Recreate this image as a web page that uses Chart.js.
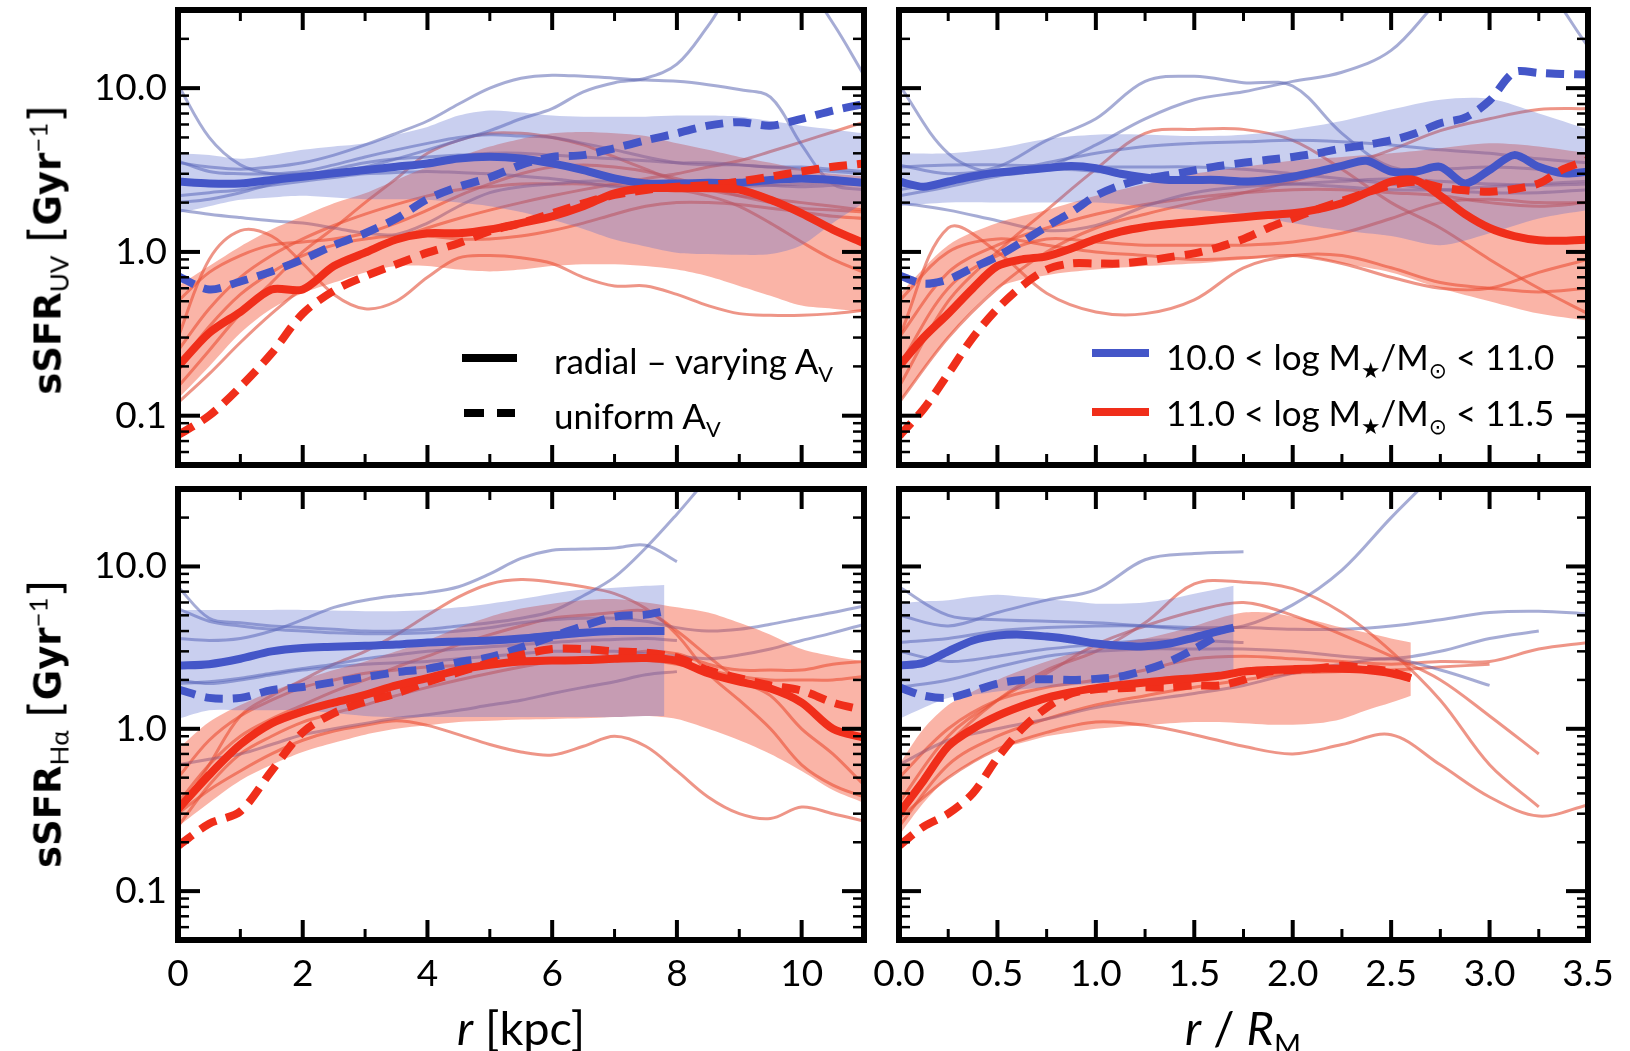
<!DOCTYPE html>
<html>
<head>
<meta charset="utf-8">
<script src="https://cdn.jsdelivr.net/npm/chart.js@4.4.0/dist/chart.umd.min.js"></script>
<style>
  body { margin: 0; width: 1630px; height: 1051px; background: #fff; position: relative; overflow: hidden; font-family: Lato, 'DejaVu Sans', sans-serif; color: #000; }
  canvas { position: absolute; }
  sub, sup { font-size: 0.62em; line-height: 0; }
  .titulo-y { position: absolute; transform: translate(-50%, -50%) rotate(-90deg); white-space: nowrap; font-family: 'DejaVu Sans', sans-serif; font-weight: bold; font-size: 37px; }
  .titulo-y sub, .titulo-y sup { font-family: Lato, sans-serif; font-weight: normal; font-size: 0.7em; }
  .titulo-y .colchete { font-weight: normal; font-size: 1.2em; }
  .titulo-x { position: absolute; transform: translate(-50%, -50%); white-space: nowrap; font-size: 47px; }
  .legenda { position: absolute; transform: translateY(-50%); white-space: nowrap; font-size: 35px; }
  .amostra { position: absolute; height: 8px; }
</style>
</head>
<body>
<canvas id="uvKpcChart"></canvas>
<canvas id="uvRmChart"></canvas>
<canvas id="haKpcChart"></canvas>
<canvas id="haRmChart"></canvas>

<div class="titulo-y" style="left:45px; top:250px">sSFR<sub>UV</sub> <span class="colchete">[</span>Gyr<sup>−1</sup><span class="colchete">]</span></div>
<div class="titulo-y" style="left:45px; top:724px">sSFR<sub>Hα</sub> <span class="colchete">[</span>Gyr<sup>−1</sup><span class="colchete">]</span></div>
<div class="titulo-x" style="left:521px; top:1027px"><i>r</i> [kpc]</div>
<div class="titulo-x" style="left:1243px; top:1027px"><i>r</i> / <i>R</i><sub>M</sub></div>

<!-- legenda do painel superior esquerdo -->
<div class="amostra" style="left:462px; top:354px; width:55px; background:#000"></div>
<div class="amostra" style="left:464px; top:409px; width:20px; background:#000"></div>
<div class="amostra" style="left:497px; top:409px; width:18px; background:#000"></div>
<div class="legenda" style="left:554px; top:360px">radial – varying A<sub>V</sub></div>
<div class="legenda" style="left:554px; top:415px">uniform A<sub>V</sub></div>

<!-- legenda do painel superior direito -->
<div class="amostra" style="left:1092px; top:349px; width:57px; background:rgb(68,86,200)"></div>
<div class="amostra" style="left:1092px; top:408px; width:57px; background:rgb(240,46,26)"></div>
<div class="legenda" style="left:1166px; top:356px">10.0 &lt; log M<sub>★</sub>/M<sub>⊙</sub> &lt; 11.0</div>
<div class="legenda" style="left:1166px; top:412px">11.0 &lt; log M<sub>★</sub>/M<sub>⊙</sub> &lt; 11.5</div>

<script>
// Grades de raio
const xKpc = [0, 0.5, 1, 1.5, 2, 2.5, 3, 3.5, 4, 4.5, 5, 5.5, 6, 6.5, 7, 7.5, 8, 8.5, 9, 9.5, 10, 10.5, 11];
const xKpcAzul = [0, 0.5, 1, 1.5, 2, 2.5, 3, 3.5, 4, 4.5, 5, 5.5, 6, 6.5, 7, 7.5, 7.8];
const xRm = [0, 0.125, 0.25, 0.375, 0.5, 0.625, 0.75, 0.875, 1, 1.125, 1.25, 1.375, 1.5, 1.625, 1.75, 1.875, 2, 2.125, 2.25, 2.375, 2.5, 2.625, 2.75, 2.875, 3, 3.125, 3.25, 3.375, 3.5];
const xRmFino = [0, 0.25, 0.5, 0.75, 1, 1.25, 1.5, 1.75, 2, 2.25, 2.5, 2.75, 3, 3.25, 3.5];
const xRmAzulHa = [0, 0.125, 0.25, 0.375, 0.5, 0.625, 0.75, 0.875, 1, 1.125, 1.25, 1.375, 1.5, 1.625, 1.7];
const xRmVermHa = [0, 0.125, 0.25, 0.375, 0.5, 0.625, 0.75, 0.875, 1, 1.125, 1.25, 1.375, 1.5, 1.625, 1.75, 1.875, 2, 2.125, 2.25, 2.375, 2.5, 2.6];

// Marcas dos eixos
const xKpcMarcas = [0, 2, 4, 6, 8, 10];
const xKpcMenores = [1, 3, 5, 7, 9, 11];
const xRmMarcas = [0, 0.5, 1, 1.5, 2, 2.5, 3, 3.5];
const xRmMenores = [0.25, 0.75, 1.25, 1.75, 2.25, 2.75, 3.25];
const yMarcas = [0.1, 1, 10];
const yMenores = [0.06, 0.07, 0.08, 0.09, 0.2, 0.3, 0.4, 0.5, 0.6, 0.7, 0.8, 0.9, 2, 3, 4, 5, 6, 7, 8, 9, 20];

// ---- sSFR UV x r [kpc] ----
const uvKpcAzulMed = [2.69, 2.62, 2.62, 2.75, 2.88, 3.02, 3.16, 3.31, 3.47, 3.72, 3.81, 3.72, 3.47, 3.16, 2.81, 2.62, 2.62, 2.64, 2.64, 2.75, 2.81, 2.75, 2.64];
const uvKpcAzulUni = [0.71, 0.59, 0.66, 0.76, 0.9, 1.1, 1.3, 1.6, 2.1, 2.5, 2.85, 3.4, 3.8, 3.9, 4.3, 4.8, 5.3, 5.9, 6.2, 5.9, 6.5, 7.3, 8.0];
const uvKpcVermMed = [0.2, 0.32, 0.43, 0.59, 0.59, 0.82, 0.99, 1.19, 1.3, 1.3, 1.37, 1.5, 1.65, 1.9, 2.28, 2.45, 2.45, 2.45, 2.4, 2.08, 1.72, 1.37, 1.13];
const uvKpcVermUni = [0.076, 0.1, 0.15, 0.24, 0.42, 0.58, 0.71, 0.84, 0.99, 1.13, 1.34, 1.5, 1.72, 1.98, 2.23, 2.39, 2.5, 2.56, 2.69, 2.88, 3.1, 3.31, 3.47];
const uvKpcAzulSup = [4.0, 3.9, 3.7, 3.9, 4.2, 4.4, 4.6, 5.2, 5.8, 6.8, 7.3, 7.1, 6.8, 6.7, 6.7, 6.7, 6.8, 6.8, 6.7, 6.3, 5.9, 5.6, 5.3];
const uvKpcAzulInf = [1.72, 1.9, 2.08, 2.15, 2.2, 2.15, 2.1, 2.1, 2.08, 2.0, 1.9, 1.75, 1.57, 1.38, 1.19, 1.08, 0.99, 0.97, 0.96, 0.97, 1.1, 1.5, 2.0];
const uvKpcVermSup = [0.62, 0.82, 1.08, 1.37, 1.65, 1.98, 2.28, 2.75, 3.3, 3.8, 4.4, 4.9, 5.3, 5.4, 5.3, 5.1, 4.6, 4.2, 3.8, 3.5, 3.2, 3.0, 2.9];
const uvKpcVermInf = [0.127, 0.2, 0.32, 0.45, 0.56, 0.65, 0.75, 0.82, 0.82, 0.78, 0.76, 0.78, 0.82, 0.84, 0.84, 0.82, 0.78, 0.71, 0.62, 0.54, 0.47, 0.45, 0.43];
const uvKpcAzul1 = [10.5, 5.0, 3.4, 3.0, 3.0, 3.1, 3.3, 3.7, 4.2, 4.8, 5.5, 6.5, 7.5, 9.5, 10.8, 11.5, 14, 24, 45, 55, 45, 25, 12];
const uvKpcAzul2 = [3.5, 3.3, 3.2, 3.3, 3.5, 3.9, 4.5, 5.3, 6.3, 8.0, 10.0, 11.5, 12.0, 11.8, 11.5, 11.2, 11.0, 10.5, 9.8, 8.8, 4.5, 2.6, 2.4];
const uvKpcAzul3 = [1.8, 1.7, 1.62, 1.55, 1.5, 1.4, 1.3, 1.28, 1.5, 1.9, 2.3, 2.5, 2.6, 2.7, 2.7, 2.65, 2.6, 2.6, 2.6, 2.55, 2.5, 2.55, 2.6];
const uvKpcAzul4 = [3.6, 3.1, 3.0, 3.0, 3.1, 3.4, 3.8, 4.2, 4.6, 5.0, 5.2, 5.1, 5.0, 4.6, 4.2, 3.8, 3.5, 3.4, 3.4, 3.3, 3.3, 3.2, 3.1];
const uvKpcAzul5 = [2.2, 2.3, 2.4, 2.55, 2.7, 2.85, 3.0, 3.05, 3.1, 3.05, 3.0, 2.9, 2.8, 2.65, 2.5, 2.45, 2.4, 2.45, 2.5, 2.55, 2.6, 2.65, 2.7];
const uvKpcAzul6 = [2.0, 2.1, 2.3, 2.6, 2.9, 3.2, 3.5, 3.7, 3.8, 3.9, 4.0, 4.0, 3.9, 3.8, 3.7, 3.6, 3.5, 3.5, 3.4, 3.3, 3.2, 3.1, 3.0];
const uvKpcVerm1 = [0.3, 0.9, 1.35, 1.25, 0.85, 0.55, 0.45, 0.5, 0.7, 0.92, 0.95, 0.92, 0.85, 0.7, 0.62, 0.62, 0.55, 0.47, 0.42, 0.41, 0.41, 0.42, 0.44];
const uvKpcVerm2 = [0.15, 0.25, 0.42, 0.65, 1.0, 1.4, 2.0, 2.8, 4.0, 4.8, 5.3, 5.3, 5.0, 4.5, 3.8, 3.2, 2.7, 2.4, 2.2, 2.1, 2.0, 1.9, 1.8];
const uvKpcVerm3 = [0.12, 0.18, 0.28, 0.42, 0.6, 0.8, 1.0, 1.2, 1.4, 1.6, 1.8, 2.0, 2.2, 2.4, 2.6, 2.8, 3.0, 3.3, 3.6, 4.1, 4.7, 5.4, 6.2];
const uvKpcVerm4 = [0.2, 0.35, 0.55, 0.75, 0.95, 1.1, 1.2, 1.25, 1.25, 1.2, 1.2, 1.25, 1.35, 1.5, 1.7, 1.9, 2.0, 2.0, 1.95, 1.85, 1.75, 1.65, 1.6];
const uvKpcVerm5 = [0.25, 0.45, 0.7, 0.95, 1.2, 1.45, 1.7, 1.95, 2.2, 2.4, 2.5, 2.6, 2.6, 2.6, 2.55, 2.5, 2.4, 2.2, 1.9, 1.5, 1.15, 0.9, 0.75];
const uvKpcVerm6 = [0.5, 0.75, 0.95, 1.1, 1.15, 1.2, 1.3, 1.5, 1.8, 2.2, 2.6, 3.0, 3.3, 3.4, 3.3, 3.1, 2.8, 2.5, 2.2, 2.0, 1.85, 1.8, 1.75];

// ---- sSFR UV x r / R_M ----
const uvRmAzulMed = [2.69, 2.5, 2.69, 2.9, 3.05, 3.15, 3.25, 3.35, 3.25, 3.0, 2.85, 2.75, 2.75, 2.75, 2.69, 2.75, 2.88, 3.09, 3.35, 3.6, 3.09, 3.09, 3.31, 2.62, 3.16, 3.9, 3.31, 3.02, 3.09];
const uvRmAzulUni = [0.72, 0.64, 0.68, 0.8, 0.94, 1.15, 1.43, 1.75, 2.2, 2.55, 2.8, 2.95, 3.15, 3.35, 3.5, 3.65, 3.8, 4.0, 4.28, 4.5, 4.8, 5.3, 6.1, 6.6, 8.4, 12.5, 12.4, 12.2, 12.1];
const uvRmVermMed = [0.2, 0.3, 0.42, 0.6, 0.82, 0.9, 0.94, 1.05, 1.2, 1.33, 1.42, 1.48, 1.53, 1.58, 1.63, 1.68, 1.72, 1.82, 1.98, 2.3, 2.69, 2.74, 2.2, 1.7, 1.4, 1.25, 1.18, 1.17, 1.19];
const uvRmVermUni = [0.075, 0.11, 0.18, 0.3, 0.45, 0.62, 0.78, 0.85, 0.85, 0.85, 0.88, 0.93, 0.98, 1.07, 1.2, 1.4, 1.6, 1.82, 2.05, 2.3, 2.55, 2.68, 2.48, 2.38, 2.33, 2.42, 2.62, 3.2, 3.64];
const uvRmAzulSup = [4.0, 4.0, 4.3, 4.9, 5.2, 5.2, 5.1, 5.2, 5.6, 6.3, 7.4, 8.5, 8.6, 7.0, 5.6];
const uvRmAzulInf = [1.9, 2.0, 2.0, 2.0, 2.0, 1.9, 1.8, 1.7, 1.5, 1.35, 1.25, 1.1, 1.3, 1.6, 1.8];
const uvRmVermSup = [0.55, 1.1, 1.5, 1.8, 2.2, 2.6, 3.0, 3.3, 3.6, 3.8, 4.0, 4.3, 4.6, 4.4, 4.0];
const uvRmVermInf = [0.12, 0.3, 0.6, 0.72, 0.78, 0.82, 0.85, 0.9, 0.95, 0.85, 0.75, 0.6, 0.5, 0.42, 0.38];
const uvRmAzul1 = [10.5, 4.0, 3.0, 3.3, 4.5, 6.5, 8.5, 9.5, 11.0, 12.5, 17, 35, 60, 45, 18];
const uvRmAzul2 = [3.4, 3.0, 3.3, 4.8, 6.5, 11.0, 11.8, 10.8, 10.3, 5.3, 3.3, 3.2, 3.3, 3.2, 3.0];
const uvRmAzul3 = [2.0, 1.8, 1.55, 1.35, 1.45, 1.9, 2.3, 2.5, 2.6, 2.7, 2.8, 2.7, 2.6, 2.55, 2.6];
const uvRmAzul4 = [2.4, 2.7, 3.0, 3.5, 4.0, 4.4, 4.6, 4.7, 4.8, 4.7, 4.5, 4.2, 4.0, 3.7, 3.5];
const uvRmAzul5 = [3.3, 3.4, 3.4, 3.35, 3.3, 3.3, 3.3, 3.2, 3.0, 2.8, 2.6, 2.4, 2.3, 2.3, 2.4];
const uvRmAzul6 = [2.2, 2.5, 2.9, 3.2, 3.1, 2.9, 2.7, 2.6, 2.6, 2.5, 2.4, 2.4, 2.5, 2.6, 2.7];
const uvRmVerm1 = [0.3, 1.4, 1.0, 0.56, 0.43, 0.42, 0.51, 0.8, 0.95, 0.95, 0.8, 0.65, 0.6, 0.57, 0.6];
const uvRmVerm2 = [0.15, 0.5, 1.0, 1.8, 3.2, 5.3, 5.6, 5.6, 4.8, 3.2, 2.0, 1.4, 0.9, 0.6, 0.42];
const uvRmVerm3 = [0.12, 0.3, 0.6, 1.0, 1.4, 1.7, 2.0, 2.3, 2.7, 3.3, 4.2, 5.5, 6.5, 7.4, 7.5];
const uvRmVerm4 = [0.2, 0.6, 0.95, 1.2, 1.15, 1.1, 1.1, 1.1, 1.15, 1.3, 1.6, 2.0, 2.1, 2.0, 2.0];
const uvRmVerm5 = [0.3, 0.75, 1.1, 1.4, 1.7, 1.95, 2.15, 2.3, 2.4, 2.4, 2.3, 2.2, 2.0, 1.9, 2.0];
const uvRmVerm6 = [0.5, 1.0, 1.2, 1.1, 1.0, 0.95, 0.9, 0.92, 0.95, 0.85, 0.7, 0.6, 0.6, 0.75, 0.9];

// ---- sSFR Halpha x r [kpc] ----
const haKpcAzulMed = [2.45, 2.5, 2.7, 3.0, 3.15, 3.2, 3.25, 3.3, 3.4, 3.45, 3.5, 3.6, 3.75, 3.9, 4.0, 4.0, 4.0];
const haKpcAzulUni = [1.75, 1.55, 1.55, 1.73, 1.81, 1.94, 2.08, 2.23, 2.34, 2.57, 2.76, 3.17, 3.7, 4.3, 4.9, 5.05, 5.3];
const haKpcAzulSup = [5.4, 5.4, 5.4, 5.4, 5.4, 5.35, 5.3, 5.3, 5.4, 5.6, 5.9, 6.3, 6.8, 7.2, 7.4, 7.6, 7.7];
const haKpcAzulInf = [1.15, 1.3, 1.3, 1.3, 1.3, 1.25, 1.2, 1.18, 1.18, 1.18, 1.18, 1.18, 1.18, 1.18, 1.18, 1.2, 1.2];
const haKpcVermMed = [0.32, 0.52, 0.8, 1.08, 1.28, 1.45, 1.62, 1.85, 2.05, 2.3, 2.48, 2.6, 2.63, 2.65, 2.7, 2.73, 2.62, 2.2, 1.95, 1.77, 1.45, 1.0, 0.88];
const haKpcVermUni = [0.19, 0.26, 0.31, 0.55, 0.95, 1.25, 1.47, 1.65, 1.94, 2.23, 2.55, 2.85, 3.1, 3.1, 3.0, 2.95, 2.75, 2.3, 2.05, 1.85, 1.72, 1.45, 1.3];
const haKpcVermSup = [0.75, 1.1, 1.4, 1.7, 2.0, 2.3, 2.6, 3.0, 3.5, 4.2, 4.9, 5.5, 5.9, 6.2, 6.3, 6.0, 5.6, 5.2, 4.5, 3.8, 3.1, 2.8, 2.6];
const haKpcVermInf = [0.25, 0.35, 0.48, 0.6, 0.72, 0.82, 0.92, 1.0, 1.05, 1.1, 1.12, 1.14, 1.15, 1.16, 1.18, 1.2, 1.15, 1.0, 0.85, 0.7, 0.55, 0.42, 0.35];
const haKpcAzul1 = [7.5, 4.8, 4.5, 4.3, 4.2, 4.1, 4.0, 4.0, 4.1, 4.3, 4.5, 4.8, 5.3, 6.6, 8.6, 13, 21, 35, 55, null, null, null, null];
const haKpcAzul2 = [3.6, 3.5, 3.6, 4.0, 4.7, 5.6, 6.2, 6.6, 6.9, 7.5, 9.0, 11.2, 12.6, 12.8, 13.0, 13.5, 10.7, null, null, null, null, null, null];
const haKpcAzul3 = [5.5, 4.6, 4.3, 4.1, 4.0, 3.9, 3.85, 3.85, 3.9, 4.0, 4.2, 4.5, 4.7, 4.8, 4.8, 4.6, 4.2, 4.0, 4.1, 4.4, 4.8, 5.2, 5.7];
const haKpcAzul4 = [2.0, 1.9, 2.0, 2.15, 2.3, 2.4, 2.5, 2.55, 2.6, 2.7, 2.8, 2.9, 3.0, 3.0, 3.0, 2.9, 2.8, 2.7, 2.85, 3.1, 3.5, 3.9, 4.4];
const haKpcAzul5 = [0.6, 0.65, 0.7, 0.8, 0.92, 1.0, 1.08, 1.16, 1.22, 1.3, 1.4, 1.5, 1.65, 1.8, 1.95, 2.15, 2.25, null, null, null, null, null, null];
const haKpcAzul6 = [1.9, 1.95, 2.05, 2.2, 2.35, 2.5, 2.7, 2.85, 3.0, 3.1, 3.2, 3.3, 3.4, 3.5, 3.55, 3.6, 3.5, null, null, null, null, null, null];
const haKpcVerm1 = [0.3, 0.42, 0.55, 0.7, 0.85, 0.97, 1.05, 1.12, 1.05, 0.92, 0.8, 0.72, 0.69, 0.78, 0.9, 0.78, 0.55, 0.38, 0.3, 0.28, 0.33, 0.3, 0.27];
const haKpcVerm2 = [0.3, 0.6, 1.2, 1.6, 2.0, 2.5, 3.0, 3.8, 5.0, 6.5, 7.8, 8.3, 8.0, 7.5, 6.8, 5.5, 3.8, 2.2, 1.5, 1.0, 0.6, 0.45, 0.38];
const haKpcVerm3 = [0.35, 0.6, 0.9, 1.15, 1.4, 1.7, 2.0, 2.4, 2.8, 3.3, 3.8, 4.3, 4.8, 5.0, 5.2, 5.3, 4.0, 2.8, 2.0, 1.6, 1.0, 0.7, 0.45];
const haKpcVerm4 = [0.5, 0.85, 1.2, 1.5, 1.8, 2.0, 2.2, 2.3, 2.4, 2.45, 2.5, 2.55, 2.6, 2.7, 2.8, 3.0, 2.9, 2.5, 2.3, 2.3, 2.3, 2.5, 2.6];
const haKpcVerm5 = [0.25, 0.45, 0.7, 0.9, 1.1, 1.25, 1.4, 1.6, 1.8, 2.0, 2.2, 2.4, 2.6, 2.65, 2.7, 2.65, 2.5, 2.3, 2.1, 2.0, 2.0, 2.0, 2.1];

// ---- sSFR Halpha x r / R_M ----
const haRmAzulMed = [2.45, 2.55, 3.0, 3.5, 3.75, 3.8, 3.7, 3.55, 3.35, 3.25, 3.22, 3.35, 3.65, 4.0, 4.2];
const haRmAzulUni = [1.8, 1.6, 1.55, 1.7, 1.9, 2.0, 2.02, 2.0, 2.03, 2.1, 2.3, 2.6, 3.1, 3.8, null];
const haRmAzulSup = [5.9, 6.1, 6.2, 6.5, 6.7, 6.5, 6.3, 6.1, 5.9, 5.9, 6.0, 6.3, 6.8, 7.3, 7.6];
const haRmAzulInf = [1.15, 1.35, 1.55, 1.62, 1.7, 1.75, 1.8, 1.85, 1.9, 1.95, 2.0, 2.05, 2.1, 2.1, 2.1];
const haRmVermMed = [0.3, 0.48, 0.78, 1.0, 1.2, 1.38, 1.55, 1.68, 1.78, 1.86, 1.93, 2.0, 2.05, 2.12, 2.25, 2.3, 2.33, 2.35, 2.34, 2.3, 2.2, 2.05];
const haRmVermUni = [0.19, 0.25, 0.3, 0.4, 0.66, 1.0, 1.35, 1.65, 1.75, 1.78, 1.8, 1.8, 1.85, 1.85, 2.0, 2.25, 2.3, 2.35, 2.45, 2.35, 2.25, 2.05];
const haRmVermSup = [0.6, 1.0, 1.4, 1.7, 2.0, 2.3, 2.6, 2.9, 3.2, 3.4, 3.6, 3.9, 4.3, 4.8, 5.2, 5.2, 4.9, 4.6, 4.2, 3.9, 3.6, 3.4];
const haRmVermInf = [0.22, 0.35, 0.5, 0.62, 0.75, 0.82, 0.9, 0.95, 1.0, 1.03, 1.05, 1.08, 1.1, 1.1, 1.08, 1.06, 1.06, 1.08, 1.15, 1.3, 1.45, 1.6];
const haRmAzul1 = [5.0, 4.3, 5.2, 6.2, 7.2, 11.0, 12.0, 12.3, null, null, null, null, null, null, null];
const haRmAzul2 = [7.5, 5.0, 4.7, 4.6, 4.5, 4.3, 4.1, 4.3, 5.8, 9.5, 20, 40, null, null, null];
const haRmAzul3 = [3.4, 3.6, 4.0, 4.2, 4.3, 4.3, 4.2, 4.2, 4.1, 4.1, 4.3, 4.7, 5.2, 5.3, 5.1];
const haRmAzul4 = [1.8, 2.0, 2.4, 2.8, 3.0, 3.1, 3.1, 3.1, 3.0, 2.8, 2.7, 3.0, 3.6, 4.0, null];
const haRmAzul5 = [0.6, 0.85, 1.0, 1.15, 1.35, 1.5, 1.65, 1.85, 2.2, 2.5, 2.7, 2.3, 1.85, null, null];
const haRmAzul6 = [3.0, 2.6, 2.8, 3.1, 3.3, 3.5, 3.5, 3.4, null, null, null, null, null, null, null];
const haRmVerm1 = [0.28, 0.5, 0.75, 0.95, 1.1, 1.05, 0.92, 0.78, 0.7, 0.8, 0.92, 0.6, 0.38, 0.29, 0.34];
const haRmVerm2 = [0.3, 0.8, 1.5, 2.3, 3.0, 4.5, 7.8, 8.0, 7.3, 5.2, 3.0, 1.5, 0.6, 0.33, null];
const haRmVerm3 = [0.35, 0.9, 1.5, 2.2, 3.3, 4.3, 5.3, 6.0, 5.0, 3.8, 2.8, 2.0, 1.2, 0.7, null];
const haRmVerm4 = [0.5, 1.0, 1.5, 1.8, 2.0, 2.3, 2.7, 2.8, 2.7, 2.6, 2.5, 2.6, 2.6, 3.1, 3.4];
const haRmVerm5 = [0.25, 0.6, 0.9, 1.15, 1.4, 1.6, 1.8, 2.0, 2.2, 2.25, 2.3, 2.4, 2.5, null, null];

// Cores
const AZUL = 'rgb(68,86,200)';
const VERMELHO = 'rgb(240,46,26)';
const AZUL_FINO = 'rgba(92,104,178,0.55)';
const VERM_FINO = 'rgba(228,84,62,0.62)';
const AZUL_BANDA = 'rgba(86,106,206,0.32)';
const VERM_BANDA = 'rgba(242,76,46,0.42)';

// Posição dos quadros (em px da página)
const quadros = {
    uvKpcChart: { L: 178, T: 10, R: 864, B: 465 },
    uvRmChart: { L: 899, T: 10, R: 1588, B: 465 },
    haKpcChart: { L: 178, T: 489, R: 864, B: 940 },
    haRmChart: { L: 899, T: 489, R: 1588, B: 940 }
};

function pontos(xs, ys) {
    return xs.map((x, i) => ({ x: x, y: ys[i] }));
}

function linhaFina(xs, ys, cor) {
    return { data: pontos(xs, ys), borderColor: cor, borderWidth: 3, pointRadius: 0, tension: 0.35, fill: false, order: 2 };
}

function banda(xs, sup, inf, cor) {
    return [
        { data: pontos(xs, sup), borderWidth: 0, borderColor: 'rgba(0,0,0,0)', pointRadius: 0, tension: 0.3, fill: false, order: 1 },
        { data: pontos(xs, inf), borderWidth: 0, borderColor: 'rgba(0,0,0,0)', pointRadius: 0, tension: 0.3, fill: '-1', backgroundColor: cor, order: 1 }
    ];
}

function linhaGrossa(xs, ys, cor, tracejada, ordem) {
    return {
        data: pontos(xs, ys), borderColor: cor, borderWidth: 8, pointRadius: 0, tension: 0.3, fill: false,
        borderDash: tracejada ? [18, 10] : [], borderCapStyle: 'butt', order: ordem
    };
}

// Plugin que desenha a moldura e as marcas internas
const moldura = {
    id: 'moldura',
    afterDraw(chart, args, opts) {
        const ctx = chart.ctx;
        const a = chart.chartArea;
        const sx = chart.scales.x, sy = chart.scales.y;
        ctx.save();
        ctx.strokeStyle = '#000';
        const traco = (x1, y1, x2, y2) => { ctx.beginPath(); ctx.moveTo(x1, y1); ctx.lineTo(x2, y2); ctx.stroke(); };
        const marcasX = (vals, len, lw) => {
            ctx.lineWidth = lw;
            vals.forEach(v => { const p = sx.getPixelForValue(v); traco(p, a.top, p, a.top + len); traco(p, a.bottom, p, a.bottom - len); });
        };
        const marcasY = (vals, len, lw) => {
            ctx.lineWidth = lw;
            vals.forEach(v => { const p = sy.getPixelForValue(v); traco(a.left, p, a.left + len, p); traco(a.right, p, a.right - len, p); });
        };
        marcasX(opts.maiores, 20, 4);
        marcasX(opts.menores, 11, 3);
        marcasY(yMarcas, 22, 4);
        marcasY(yMenores, 11, 2.5);
        ctx.lineWidth = 6;
        ctx.strokeRect(a.left, a.top, a.right - a.left, a.bottom - a.top);
        ctx.restore();
    }
};

// Função para criar cada painel
function criarGrafico(canvasId, eixoX, mostrarX, mostrarY, datasets) {
    const padL = 110, padR = 45, padT = 40, padB = 75;
    const q = quadros[canvasId];
    const canvas = document.getElementById(canvasId);
    const w = q.R - q.L + padL + padR;
    const h = q.B - q.T + padT + padB;
    canvas.width = w;
    canvas.height = h;
    canvas.style.width = w + 'px';
    canvas.style.height = h + 'px';
    canvas.style.left = (q.L - padL) + 'px';
    canvas.style.top = (q.T - padT) + 'px';

    return new Chart(canvas.getContext('2d'), {
        type: 'line',
        data: { datasets: datasets },
        options: {
            responsive: false,
            animation: false,
            devicePixelRatio: 1,
            layout: { padding: { left: mostrarY ? 0 : padL, right: padR, top: padT, bottom: mostrarX ? 0 : padB } },
            plugins: {
                legend: { display: false },
                tooltip: { enabled: false },
                moldura: { maiores: eixoX.maiores, menores: eixoX.menores }
            },
            scales: {
                x: {
                    type: 'linear', min: 0, max: eixoX.max,
                    grid: { display: false, drawTicks: false },
                    border: { display: false },
                    afterBuildTicks: s => { s.ticks = eixoX.maiores.map(v => ({ value: v })); },
                    afterFit: s => { s.height = mostrarX ? padB : 0; },
                    ticks: {
                        display: mostrarX, padding: 12, autoSkip: false, maxRotation: 0, minRotation: 0,
                        color: '#000', font: { family: 'Lato', size: 37 },
                        callback: eixoX.formato
                    }
                },
                y: {
                    type: 'logarithmic', min: 0.05, max: 30,
                    grid: { display: false, drawTicks: false },
                    border: { display: false },
                    afterBuildTicks: s => { s.ticks = yMarcas.map(v => ({ value: v })); },
                    afterFit: s => { s.width = mostrarY ? padL : 0; },
                    ticks: {
                        display: mostrarY, padding: 11, autoSkip: false,
                        color: '#000', font: { family: 'Lato', size: 37 },
                        callback: v => Number(v).toFixed(1)
                    }
                }
            }
        },
        plugins: [moldura]
    });
}

// Monta a lista de séries de um painel
function montarSeries(xFino, finosAzul, finosVerm, xAzul, azul, xVerm, verm) {
    const lista = [];
    finosAzul.forEach(ys => lista.push(linhaFina(xFino, ys, AZUL_FINO)));
    finosVerm.forEach(ys => lista.push(linhaFina(xFino, ys, VERM_FINO)));
    banda(azul.xBanda || xAzul, azul.sup, azul.inf, AZUL_BANDA).forEach(d => lista.push(d));
    banda(verm.xBanda || xVerm, verm.sup, verm.inf, VERM_BANDA).forEach(d => lista.push(d));
    lista.push(linhaGrossa(xAzul, azul.uni, AZUL, true, 0.3));
    lista.push(linhaGrossa(xAzul, azul.med, AZUL, false, 0.2));
    lista.push(linhaGrossa(xVerm, verm.uni, VERMELHO, true, 0.1));
    lista.push(linhaGrossa(xVerm, verm.med, VERMELHO, false, 0));
    return lista;
}

const eixoKpc = { max: 11, maiores: xKpcMarcas, menores: xKpcMenores, formato: v => String(v) };
const eixoRm = { max: 3.5, maiores: xRmMarcas, menores: xRmMenores, formato: v => Number(v).toFixed(1) };

criarGrafico('uvKpcChart', eixoKpc, false, true, montarSeries(
    xKpc,
    [uvKpcAzul1, uvKpcAzul2, uvKpcAzul3, uvKpcAzul4, uvKpcAzul5, uvKpcAzul6],
    [uvKpcVerm1, uvKpcVerm2, uvKpcVerm3, uvKpcVerm4, uvKpcVerm5, uvKpcVerm6],
    xKpc, { sup: uvKpcAzulSup, inf: uvKpcAzulInf, med: uvKpcAzulMed, uni: uvKpcAzulUni },
    xKpc, { sup: uvKpcVermSup, inf: uvKpcVermInf, med: uvKpcVermMed, uni: uvKpcVermUni }
));

criarGrafico('uvRmChart', eixoRm, false, false, montarSeries(
    xRmFino,
    [uvRmAzul1, uvRmAzul2, uvRmAzul3, uvRmAzul4, uvRmAzul5, uvRmAzul6],
    [uvRmVerm1, uvRmVerm2, uvRmVerm3, uvRmVerm4, uvRmVerm5, uvRmVerm6],
    xRm, { xBanda: xRmFino, sup: uvRmAzulSup, inf: uvRmAzulInf, med: uvRmAzulMed, uni: uvRmAzulUni },
    xRm, { xBanda: xRmFino, sup: uvRmVermSup, inf: uvRmVermInf, med: uvRmVermMed, uni: uvRmVermUni }
));

criarGrafico('haKpcChart', eixoKpc, true, true, montarSeries(
    xKpc,
    [haKpcAzul1, haKpcAzul2, haKpcAzul3, haKpcAzul4, haKpcAzul5, haKpcAzul6],
    [haKpcVerm1, haKpcVerm2, haKpcVerm3, haKpcVerm4, haKpcVerm5],
    xKpcAzul, { sup: haKpcAzulSup, inf: haKpcAzulInf, med: haKpcAzulMed, uni: haKpcAzulUni },
    xKpc, { sup: haKpcVermSup, inf: haKpcVermInf, med: haKpcVermMed, uni: haKpcVermUni }
));

criarGrafico('haRmChart', eixoRm, true, false, montarSeries(
    xRmFino,
    [haRmAzul1, haRmAzul2, haRmAzul3, haRmAzul4, haRmAzul5, haRmAzul6],
    [haRmVerm1, haRmVerm2, haRmVerm3, haRmVerm4, haRmVerm5],
    xRmAzulHa, { sup: haRmAzulSup, inf: haRmAzulInf, med: haRmAzulMed, uni: haRmAzulUni },
    xRmVermHa, { sup: haRmVermSup, inf: haRmVermInf, med: haRmVermMed, uni: haRmVermUni }
));
</script>
</body>
</html>
